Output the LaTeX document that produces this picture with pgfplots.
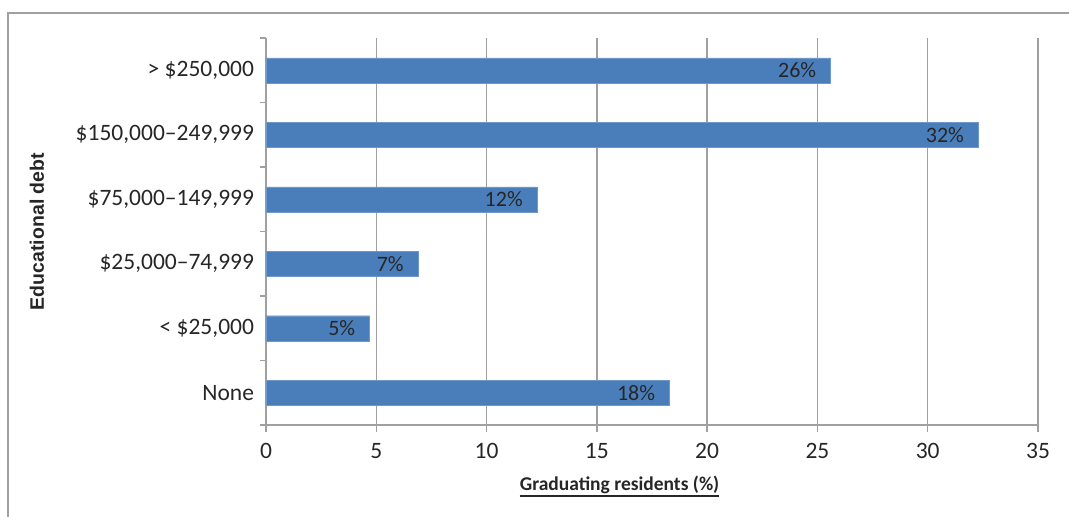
\documentclass[border=0pt]{standalone}
\usepackage{fontspec}
\setmainfont{Carlito}
\newfontfamily\arialfont{Liberation Sans}
\usepackage{pgfplots}
\pgfplotsset{compat=1.18}
\definecolor{barblue}{RGB}{74,126,187}
\definecolor{gridgray}{RGB}{160,160,160}
\definecolor{txt}{RGB}{38,38,38}

\begin{document}
\begin{tikzpicture}[x=1pt,y=1pt]
\useasboundingbox (0,0) rectangle (1069,517);
\draw[gridgray, line width=1.5pt] (8,0) -- (8,504) -- (1069,504);
\begin{axis}[
  at={(266pt,92pt)}, anchor=south west,
  scale only axis, width=772pt, height=387pt,
  xbar, bar width=25pt,
  xmin=0, xmax=35, ymin=-0.5, ymax=5.5,
  axis x line*=bottom, axis y line*=left,
  axis line style={gridgray, line width=1.3pt, -},
  xtick={0,5,...,35},
  ytick={0,...,5},
  yticklabels={None, {< \$25,000}, {\$25,000–74,999}, {\$75,000–149,999}, {\$150,000–249,999}, {> \$250,000}},
  minor ytick={-0.5,0.5,...,5.5},
  tick align=outside,
  major tick length=7pt, minor tick length=6pt,
  major y tick style={draw=none},
  tick style={gridgray, line width=1.3pt},
  minor tick style={gridgray, line width=1.3pt},
  xmajorgrids, grid style={gridgray, line width=1.3pt},
  font=\fontsize{23.5}{27}\selectfont,
  ticklabel style={text=txt},
  yticklabel style={xshift=-1.5pt},
  xticklabel style={yshift=-8pt},
  /pgf/number format/assume math mode=true,
  xlabel={\fontsize{19.5}{23}\selectfont\bfseries Graduating residents (\%)},
  xlabel style={at={(axis description cs:0.458,-0.155)}, anchor=center, inner xsep=0pt, name=xl, text=txt},
  ylabel={\arialfont\fontsize{19.5}{23}\selectfont\bfseries Educational debt},
  ylabel style={at={(axis description cs:-0.2966,0.5)}, anchor=center, text=txt},
  point meta=x,
  nodes near coords={\pgfmathprintnumber[fixed,precision=0]{\pgfplotspointmeta}\%},
  every node near coord/.append style={anchor=east, xshift=-11pt, text=txt, font=\fontsize{22}{26}\selectfont},
]
\addplot[fill=barblue, draw=barblue!80!white] coordinates {
  (18.3,0) (4.7,1) (6.9,2) (12.3,3) (32.3,4) (25.6,5)
};
\end{axis}
\draw[txt, line width=2.6pt] ([yshift=-5.5pt]xl.base west) -- ([yshift=-5.5pt]xl.base east);
\end{tikzpicture}
\end{document}
